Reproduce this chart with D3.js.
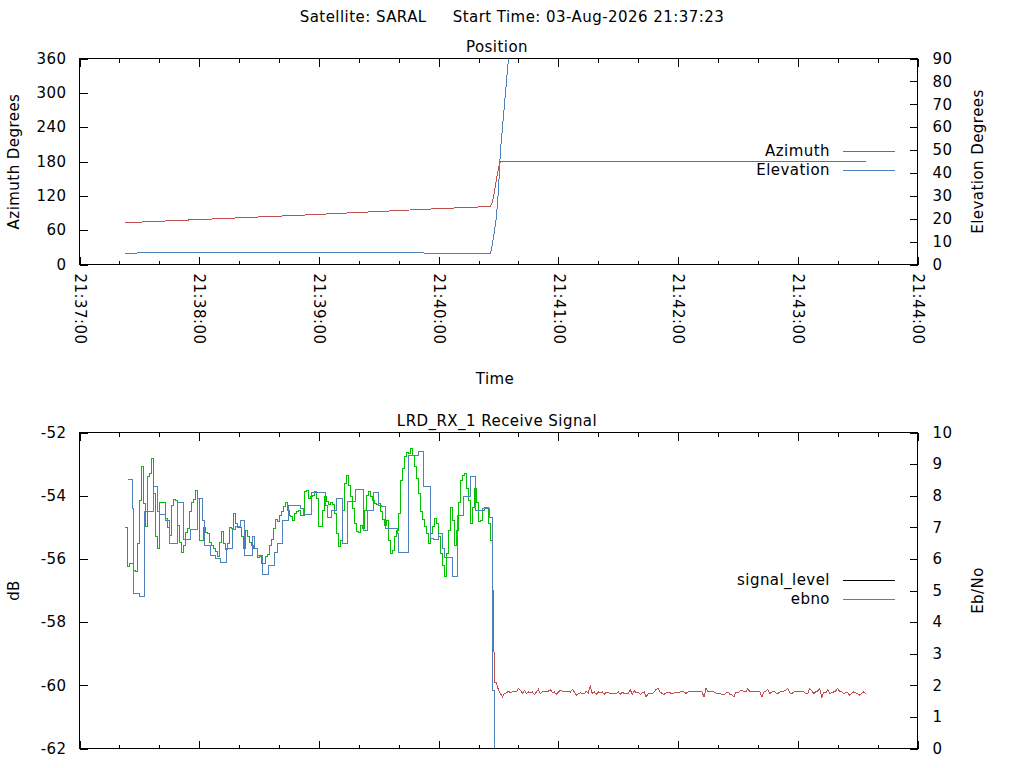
<!DOCTYPE html>
<html><head><meta charset="utf-8">
<script src="https://cdn.jsdelivr.net/npm/d3@7"></script>
<style>
html,body{margin:0;padding:0;background:#fff;}
svg{display:block;font-family:"DejaVu Sans",sans-serif;}
text{fill:#000;font-size:15px;letter-spacing:0.45px;}
</style></head><body>
<svg id="chart" width="1024" height="768"></svg>
<script>
// ---------------- DATA ----------------
const chartTitle = "Satellite: SARAL     Start Time: 03-Aug-2026 21:37:23";
const topTitle = "Position";
const bottomTitle = "LRD_RX_1 Receive Signal";
const timeTickLabels = ["21:37:00","21:38:00","21:39:00","21:40:00","21:41:00","21:42:00","21:43:00","21:44:00"];
const azTicks = [0,60,120,180,240,300,360];
const elTicks = [0,10,20,30,40,50,60,70,80,90];
const dbTicks = [-62,-60,-58,-56,-54,-52];
const ebTicks = [0,1,2,3,4,5,6,7,8,9,10];

// seconds after 21:37:00
const azTimes  = [23, 53, 83, 113, 143, 173, 203, 206, 207, 208, 209, 210, 211, 394];
const azValues = [73, 77.5, 82, 86.5, 91.5, 96.5, 101, 101.5, 110, 128, 150, 168, 180, 180];

const elTimes  = [23, 28, 29, 172, 173, 206, 207, 208, 209, 210, 211, 212, 213, 214, 215, 216];
const elValues = [4.7, 4.7, 5.2, 5.2, 4.9, 4.9, 9, 15, 21, 33, 50, 60, 70, 80, 90, 100];

// signal level, one value per second from 21:37:23
const sigStart = 23;
const sigLockedCount = 185;
const sigValues = [
 -55.0,-56.25,-56.15,-56.15,-56.36,-56.41,-55.5,-54.15,-53.09,-54.25,
 -54.99,-53.4,-53.3,-52.83,-53.93,-55.3,-55.68,-54.23,-54.23,-54.23,
 -54.73,-55.0,-55.25,-54.3,-54.11,-54.15,-54.94,-55.47,-55.8,-55.57,
 -55.15,-55.04,-54.51,-54.2,-54.11,-53.83,-54.09,-55.41,-55.41,-55.0,
 -55.15,-55.2,-55.47,-55.57,-55.68,-55.75,-55.92,-55.47,-55.12,-55.52,
 -55.7,-55.52,-55.0,-55.04,-54.57,-54.88,-55.01,-55.01,-55.3,-55.68,
 -55.1,-55.3,-55.47,-55.57,-55.68,-55.68,-55.94,-55.92,-56.13,-56.15,
 -55.92,-55.85,-55.57,-55.38,-55.04,-54.76,-54.83,-54.63,-54.51,-54.33,
 -54.23,-54.46,-54.63,-54.65,-54.78,-54.57,-54.5,-54.46,-54.62,-54.62,
 -53.88,-53.85,-54.09,-54.04,-53.99,-53.88,-54.09,-54.99,-54.99,-54.46,
 -54.04,-54.17,-54.27,-54.2,-54.27,-54.57,-55.2,-55.62,-55.41,-54.46,
 -53.62,-53.35,-53.67,-54.04,-54.41,-54.88,-55.12,-55.15,-54.94,-55.04,
 -54.46,-53.99,-53.88,-54.04,-54.15,-54.25,-54.27,-54.25,-54.51,-54.76,
 -54.94,-54.78,-55.41,-55.83,-55.73,-55.3,-55.1,-54.57,-53.51,-53.14,
 -52.77,-52.62,-52.67,-52.51,-52.72,-53.09,-53.46,-53.93,-54.51,-54.76,
 -54.99,-55.2,-55.52,-55.2,-54.99,-54.73,-54.88,-55.3,-55.83,-56.2,
 -56.57,-55.83,-55.1,-54.36,-54.78,-55.57,-55.1,-54.2,-53.51,-53.35,
 -53.3,-53.78,-54.15,-54.88,-54.36,-53.78,-54.2,-54.83,-54.78,-54.46,
 -54.36,-54.36,-54.88,-55.41,-56.0,
 -59.92,-59.92,-60.16,-60.26,-60.37,-60.26,-60.24,-60.19,-60.24,-60.21,
 -60.21,-60.21,-60.10,-60.16,-60.26,-60.16,-60.26,-60.21,-60.24,-60.21,
 -60.29,-60.21,-60.13,-60.26,-60.21,-60.21,-60.21,-60.19,-60.13,-60.24,
 -60.21,-60.29,-60.21,-60.16,-60.19,-60.19,-60.19,-60.19,-60.21,-60.13,
 -60.21,-60.31,-60.26,-60.24,-60.26,-60.26,-60.19,-60.24,-60.02,-60.26,
 -60.21,-60.29,-60.21,-60.24,-60.21,-60.29,-60.21,-60.24,-60.26,-60.26,
 -60.26,-60.26,-60.21,-60.29,-60.21,-60.26,-60.26,-60.26,-60.13,-60.29,
 -60.16,-60.24,-60.21,-60.29,-60.24,-60.21,-60.37,-60.26,-60.26,-60.26,
 -60.21,-60.13,-60.10,-60.21,-60.26,-60.29,-60.24,
 -60.24,-60.24,-60.26,-60.24,-60.21,-60.24,-60.21,-60.21,-60.21,-60.26,
 -60.21,-60.21,-60.21,-60.21,-60.21,-60.21,-60.21,-60.21,-60.37,-60.10,
 -60.21,-60.21,-60.21,-60.21,-60.24,-60.26,-60.26,-60.29,-60.31,-60.24,
 -60.21,-60.29,-60.31,-60.37,-60.21,-60.24,-60.18,-60.15,-60.21,-60.21,
 -60.10,-60.21,-60.21,-60.21,-60.21,-60.21,-60.21,-60.37,-60.21,-60.18,
 -60.13,-60.26,-60.21,-60.18,-60.24,-60.26,-60.21,-60.21,-60.18,-60.15,
 -60.10,-60.24,-60.26,-60.21,-60.21,-60.21,-60.21,-60.21,-60.21,-60.26,
 -60.26,-60.10,-60.18,-60.26,-60.21,-60.18,-60.10,-60.37,-60.24,-60.24,
 -60.15,-60.26,-60.24,-60.21,-60.18,-60.10,-60.19,-60.21,-60.26,-60.24,
 -60.24,-60.31,-60.26,-60.21,-60.24,-60.26,-60.31,-60.26,-60.21,-60.26
];

// Eb/No steps (seconds after 21:37:00)
const ebnoTimes = [24.1,26.4,27.2,30.2,32.7,36.9,39.3,40.3,43.1,45.3,49.0,52.3,55.6,59.0,61.5,62.7,65.7,68.2,70.7,73.7,
 76.5,78.2,80.7,82.9,86.5,87.9,89.1,91.7,94.9,97.9,99.1,101.6,104.6,107.4,110.8,112.4,116.1,123.3,124.2,126.2,
 128.8,131.7,134.2,138.3,142.2,144.2,147.5,150.0,151.2,153.4,159.2,160.1,165.1,170.1,172.6,175.9,177.3,180.1,181.8,183.0,
 187.1,189.3,192.6,196.0,198.5,201.8,205.7,206.9,208.0];
const ebnoValues = [8.52,7.61,4.90,4.82,7.51,8.28,7.51,7.40,7.22,6.49,7.79,6.62,6.93,7.91,7.22,6.43,6.12,6.01,5.88,6.34,
 6.93,7.01,7.22,6.12,6.70,6.33,6.12,5.52,5.80,6.20,6.49,7.20,7.69,7.70,7.59,7.40,8.10,7.70,7.31,7.54,
 7.91,6.49,7.81,8.20,6.91,7.54,8.10,7.70,7.67,6.96,6.80,6.20,9.28,9.39,8.28,6.64,6.61,6.80,6.33,6.04,
 5.43,7.38,7.96,8.60,7.52,7.59,7.31,1.85,0];

const seriesColors = {azimuth:"#c0504d", elevation:"#4f81bd", locked:"#00c000", unlocked:"#c0504d", signalKey:"#000000", ebno:"#4f81bd"};

// ---------------- DRAW ----------------
const svg = d3.select("#chart");
const T0 = new Date(2026, 7, 3, 21, 37, 0);
const toDate = s => new Date(T0.getTime() + s * 1000);
const L = 79.5, R = 917.5;
const x = d3.scaleTime().domain([toDate(0), toDate(420)]).range([L, R]);
const majorDates = timeTickLabels.map((d, i) => toDate(i * 60));
const minorDates = d3.range(0, 421, 20).filter(s => s % 60 !== 0).map(toDate);
const numFmt = d => String(d);

svg.append("text").attr("x", 512).attr("y", 17).attr("dy", "0.35em")
  .attr("text-anchor", "middle").style("white-space", "pre").text(chartTitle);

function panel(top, bottom, yL, yR, ticksL, ticksR, labelL, labelR, title, showTimeLabels, id) {
  const g = svg.append("g");
  g.append("clipPath").attr("id", id).append("rect")
    .attr("x", L).attr("y", top).attr("width", R - L).attr("height", bottom - top);
  g.append("text").attr("x", 497).attr("y", top - 12).attr("dy", "0.35em")
    .attr("text-anchor", "middle").text(title);

  const style = sel => {
    sel.attr("font-size", null).attr("font-family", null);
    sel.select(".domain").remove();
    sel.selectAll("line").attr("stroke", "#000").attr("shape-rendering", "crispEdges");
    sel.selectAll("text").attr("fill", "#000").style("font-size", "15px");
  };
  const xb = g.append("g").attr("transform", `translate(0,${bottom})`)
    .call(d3.axisBottom(x).tickValues(majorDates).tickSize(-8)
      .tickFormat((d, i) => showTimeLabels ? timeTickLabels[i] : "")).call(style);
  if (showTimeLabels) {
    xb.selectAll("text").attr("transform", "rotate(90)").attr("x", 9).attr("y", 0)
      .attr("dy", "0.35em").style("text-anchor", "start");
  }
  g.append("g").attr("transform", `translate(0,${bottom})`)
    .call(d3.axisBottom(x).tickValues(minorDates).tickSize(-4).tickFormat("")).call(style);
  g.append("g").attr("transform", `translate(0,${top})`)
    .call(d3.axisTop(x).tickValues(majorDates).tickSize(-8).tickFormat("")).call(style);
  g.append("g").attr("transform", `translate(0,${top})`)
    .call(d3.axisTop(x).tickValues(minorDates).tickSize(-4).tickFormat("")).call(style);
  g.append("g").attr("transform", `translate(${L},0)`)
    .call(d3.axisLeft(yL).tickValues(ticksL).tickSize(-8).tickPadding(13).tickFormat(numFmt)).call(style);
  g.append("g").attr("transform", `translate(${R},0)`)
    .call(d3.axisRight(yR).tickValues(ticksR).tickSize(-8).tickPadding(15).tickFormat(numFmt)).call(style);

  g.append("rect").attr("x", L).attr("y", top).attr("width", R - L).attr("height", bottom - top)
    .attr("fill", "none").attr("stroke", "#000").attr("shape-rendering", "crispEdges");

  const mid = (top + bottom) / 2;
  g.append("text").attr("transform", `translate(14,${mid}) rotate(-90)`).attr("dy", "0.35em")
    .attr("text-anchor", "middle").text(labelL);
  g.append("text").attr("transform", `translate(978,${mid}) rotate(-90)`).attr("dy", "0.35em")
    .attr("text-anchor", "middle").text(labelR);
  return g;
}

function legend(g, items, y0) {
  items.forEach((it, i) => {
    const y = y0 + i * 19;
    g.append("text").attr("x", 830).attr("y", y).attr("dy", "0.35em").attr("text-anchor", "end").text(it.label);
    g.append("line").attr("x1", 843).attr("x2", 895).attr("y1", y + 0.5).attr("y2", y + 0.5)
      .attr("stroke", it.color).attr("stroke-width", 1).attr("shape-rendering", "crispEdges");
  });
}

const lineStyle = (sel, color) => sel.attr("fill", "none").attr("stroke", color)
  .attr("stroke-width", 1).attr("shape-rendering", "crispEdges");

// ---- top panel ----
const yAz = d3.scaleLinear().domain([0, 360]).range([264.5, 58.5]);
const yEl = d3.scaleLinear().domain([0, 90]).range([264.5, 58.5]);
const gTop = panel(58.5, 264.5, yAz, yEl, azTicks, elTicks,
  "Azimuth Degrees", "Elevation Degrees", topTitle, true, "clipTop");
gTop.append("text").attr("x", 495).attr("y", 379).attr("dy", "0.35em").attr("text-anchor", "middle").text("Time");

const azData = azTimes.map((t, i) => [toDate(t), azValues[i]]);
const elData = elTimes.map((t, i) => [toDate(t), elValues[i]]);
const dataTop = gTop.append("g").attr("clip-path", "url(#clipTop)");
dataTop.append("path").datum(azData).call(lineStyle, seriesColors.azimuth)
  .attr("d", d3.line().x(d => x(d[0])).y(d => yAz(d[1])));
dataTop.append("path").datum(elData).call(lineStyle, seriesColors.elevation)
  .attr("d", d3.line().x(d => x(d[0])).y(d => yEl(d[1])));
legend(gTop, [{label: "Azimuth", color: seriesColors.azimuth}, {label: "Elevation", color: seriesColors.elevation}], 150.5);

// ---- bottom panel ----
const yDb = d3.scaleLinear().domain([-62, -52]).range([748.5, 432.5]);
const yEb = d3.scaleLinear().domain([0, 10]).range([748.5, 432.5]);
const gBot = panel(432.5, 748.5, yDb, yEb, dbTicks, ebTicks,
  "dB", "Eb/No", bottomTitle, false, "clipBot");

const sigData = sigValues.map((v, i) => [toDate(sigStart + i), v]);
const stepLine = d3.line().curve(d3.curveStepAfter).x(d => x(d[0])).y(d => yDb(d[1]));
const linLine = d3.line().x(d => x(d[0])).y(d => yDb(d[1]));
const dataBot = gBot.append("g").attr("clip-path", "url(#clipBot)");
dataBot.append("path").datum(sigData.slice(0, sigLockedCount)).call(lineStyle, seriesColors.locked).attr("d", stepLine);
dataBot.append("path").datum(sigData.slice(sigLockedCount - 1)).call(lineStyle, seriesColors.unlocked).attr("d", linLine);
const ebData = ebnoTimes.map((t, i) => [toDate(t), ebnoValues[i]]);
dataBot.append("path").datum(ebData).call(lineStyle, seriesColors.ebno)
  .attr("d", d3.line().curve(d3.curveStepAfter).x(d => x(d[0])).y(d => yEb(d[1])));
legend(gBot, [{label: "signal_level", color: seriesColors.signalKey}, {label: "ebno", color: seriesColors.ebno}], 579.5);
</script>
</body></html>
